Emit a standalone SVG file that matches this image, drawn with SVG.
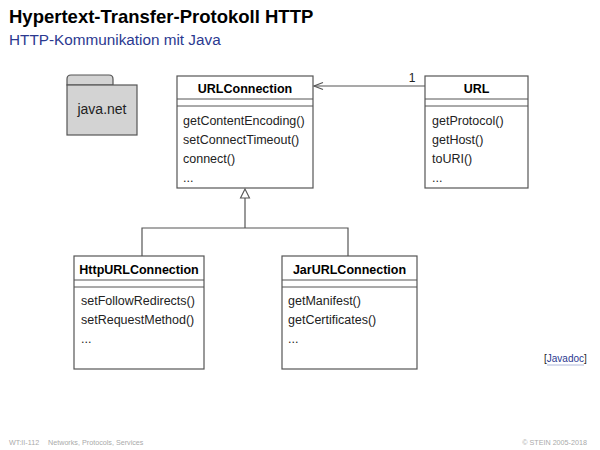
<svg xmlns="http://www.w3.org/2000/svg" width="600" height="450" viewBox="0 0 600 450">
<style>
text{font-family:"Liberation Sans",Arial,sans-serif;}
.box{fill:#fff;stroke:#555;stroke-width:1.2;}
.sep{stroke:#555;stroke-width:1;}
.cn{font-size:12.5px;font-weight:bold;text-anchor:middle;fill:#000;}
.m{font-size:12.5px;fill:#222;}
.ln{fill:none;stroke:#555;stroke-width:1.2;}
.ft{font-size:7.2px;fill:#aaa;}
</style>
<defs>
<marker id="open" markerWidth="12" markerHeight="10" refX="10" refY="5" orient="auto" markerUnits="userSpaceOnUse">
<path d="M1,1.5 L10,5 L1,8.5" fill="none" stroke="#555" stroke-width="1.2"/>
</marker>
</defs>
<rect width="600" height="450" fill="#fff"/>
<text x="9" y="23" font-size="18.5" font-weight="bold" fill="#000">Hypertext-Transfer-Protokoll HTTP</text>
<text x="9" y="45" font-size="15.3" fill="#2b3990">HTTP-Kommunikation mit Java</text>

<g id="pkg-java-net">
<path d="M67,85 L67,79 Q67,75 71,75 L109,75 Q113,75 113,79 L113,85 Z" fill="#d3d3d3" stroke="#555" stroke-width="1.2"/>
<rect x="67" y="85" width="70" height="50" fill="#d3d3d3" stroke="#555" stroke-width="1.2"/>
<text x="102" y="114" font-size="14" text-anchor="middle" fill="#222">java.net</text>
</g>

<g id="connectors">
<line class="ln" x1="425" y1="86" x2="314" y2="86" marker-end="url(#open)"/>
<text x="412" y="82" font-size="12" text-anchor="middle" fill="#222">1</text>
<polyline class="ln" points="142,257 142,228 348,228 348,257"/>
<line class="ln" x1="245" y1="228" x2="245" y2="198"/>
<path d="M245,189 L249.5,198 L240.5,198 Z" fill="#fff" stroke="#555" stroke-width="1.1"/>
</g>

<g id="URLConnection">
<rect class="box" x="177" y="76" width="136" height="112"/>
<line class="sep" x1="177" y1="99" x2="313" y2="99"/>
<line class="sep" x1="177" y1="106" x2="313" y2="106"/>
<text class="cn" x="245" y="93">URLConnection</text>
<text class="m" x="183" y="125">getContentEncoding()</text>
<text class="m" x="183" y="144">setConnectTimeout()</text>
<text class="m" x="183" y="163">connect()</text>
<text class="m" x="183" y="182">...</text>
</g>

<g id="URL">
<rect class="box" x="425" y="76" width="103" height="112"/>
<line class="sep" x1="425" y1="99" x2="528" y2="99"/>
<line class="sep" x1="425" y1="106" x2="528" y2="106"/>
<text class="cn" x="476.5" y="93">URL</text>
<text class="m" x="432" y="125">getProtocol()</text>
<text class="m" x="432" y="144">getHost()</text>
<text class="m" x="432" y="163">toURI()</text>
<text class="m" x="432" y="182">...</text>
</g>

<g id="HttpURLConnection">
<rect class="box" x="74" y="256" width="130" height="113"/>
<line class="sep" x1="74" y1="280" x2="204" y2="280"/>
<line class="sep" x1="74" y1="287" x2="204" y2="287"/>
<text class="cn" x="139" y="274">HttpURLConnection</text>
<text class="m" x="81" y="305">setFollowRedirects()</text>
<text class="m" x="81" y="324">setRequestMethod()</text>
<text class="m" x="81" y="343">...</text>
</g>

<g id="JarURLConnection">
<rect class="box" x="282" y="256" width="135" height="113"/>
<line class="sep" x1="282" y1="280" x2="417" y2="280"/>
<line class="sep" x1="282" y1="287" x2="417" y2="287"/>
<text class="cn" x="349.5" y="274">JarURLConnection</text>
<text class="m" x="288" y="305">getManifest()</text>
<text class="m" x="288" y="324">getCertificates()</text>
<text class="m" x="288" y="343">...</text>
</g>

<g id="javadoc">
<text x="544" y="362" font-size="10" fill="#222">[<tspan fill="#2b3990">Javadoc</tspan>]</text>
<line x1="547" y1="365" x2="584" y2="365" stroke="#9aa6d0" stroke-width="0.8"/>
</g>

<text class="ft" x="9" y="445">WT:II-112</text>
<text class="ft" x="48" y="445">Networks, Protocols, Services</text>
<text class="ft" x="587" y="445" text-anchor="end">© STEIN 2005-2018</text>
</svg>
